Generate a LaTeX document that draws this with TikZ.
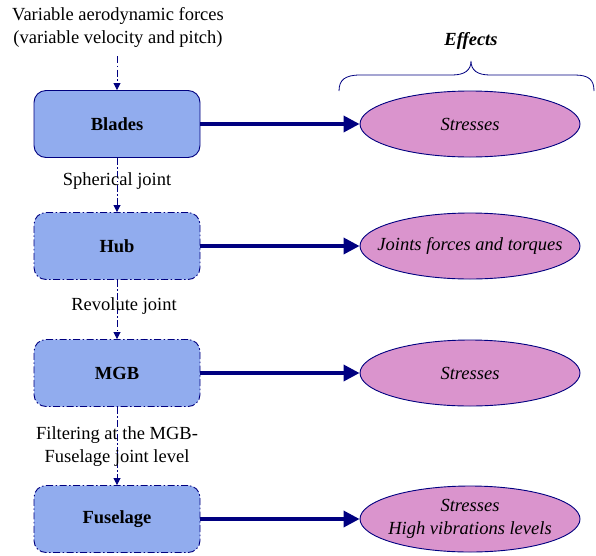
\documentclass[tikz,border=0pt]{standalone}
\usepackage{fontspec}
\setmainfont{Liberation Serif}
\usetikzlibrary{arrows.meta,shapes.geometric,patterns}
\definecolor{navy}{RGB}{0,0,128}
\definecolor{boxfill}{RGB}{145,172,238}
\definecolor{ellfill}{RGB}{218,148,205}
\begin{document}
\begin{tikzpicture}[x=1pt,y=-1pt,
  part/.style={draw=navy, line width=0.9pt, fill=boxfill, rounded corners=12pt,
    minimum width=166pt, minimum height=67pt, inner sep=0pt,
    font=\fontsize{18.5}{22}\selectfont\bfseries},
  dashdot/.style={dash pattern=on 7pt off 2.5pt on 1.5pt off 2.5pt},
  effect/.style={ellipse, draw=navy, line width=0.9pt, fill=ellfill,
    minimum width=220pt, minimum height=66pt, inner sep=0pt,
    font=\fontsize{18.5}{23}\selectfont\itshape, align=center},
  lbl/.style={font=\fontsize{18.5}{23}\selectfont, align=center, inner sep=0pt},
  link/.style={draw=navy, line width=0.8pt, dashdot, -{Triangle[length=7pt,width=7pt]}},
  fx/.style={draw=navy, line width=3.5pt, -{Triangle[length=16pt,width=16pt]}}
]
\useasboundingbox (0,0) rectangle (596,555);

\node[lbl] (src) at (118,27) {Variable aerodynamic forces\\(variable velocity and pitch)};
\coordinate (srcend) at (117,56);

\node[part] (blades) at (117,124) {Blades};
\node[part, dashdot] (hub) at (117,246) {Hub};
\node[part, dashdot] (mgb) at (117,373) {MGB};
\node[part, dashdot] (fus) at (117,519) {Fuselage};

\draw[link] (srcend) -- (blades.north);
\draw[link] (blades.south) -- (hub.north);
\draw[link] (hub.south) -- (mgb.north);
\draw[link] (mgb.south) -- (fus.north);

\node[lbl] (l1) at (117,181) {Spherical joint};
\node[lbl] (l2) at (124,306) {Revolute joint};
\node[lbl] (l3) at (117,447) {Filtering at the MGB-\\Fuselage joint level};

\node[effect] (e1) at (470,124) {Stresses};
\node[effect, inner xsep=-20pt] (e2) at (470,246) {Joints forces and torques};
\node[effect] (e3) at (470,373) {Stresses};
\node[effect, inner xsep=-10pt, inner ysep=-4pt] (e4) at (470,519) {Stresses\\High vibrations levels};

\draw[fx] (blades.east) -- (e1.west);
\draw[fx] (hub.east) -- (e2.west);
\draw[fx] (mgb.east) -- (e3.west);
\draw[fx] (fus.east) -- (e4.west);

\node[font=\fontsize{18.5}{22}\selectfont\bfseries\itshape] (eff) at (471,41) {Effects};
\draw[navy, line width=0.8pt] (339,91) .. controls (339,80) and (345,75) .. (360,75)
  -- (452,75) .. controls (465,75) and (471,70) .. (471,61)
  .. controls (471,70) and (477,75) .. (490,75)
  -- (575,75) .. controls (589,75) and (594,80) .. (594,91);
\end{tikzpicture}
\end{document}
